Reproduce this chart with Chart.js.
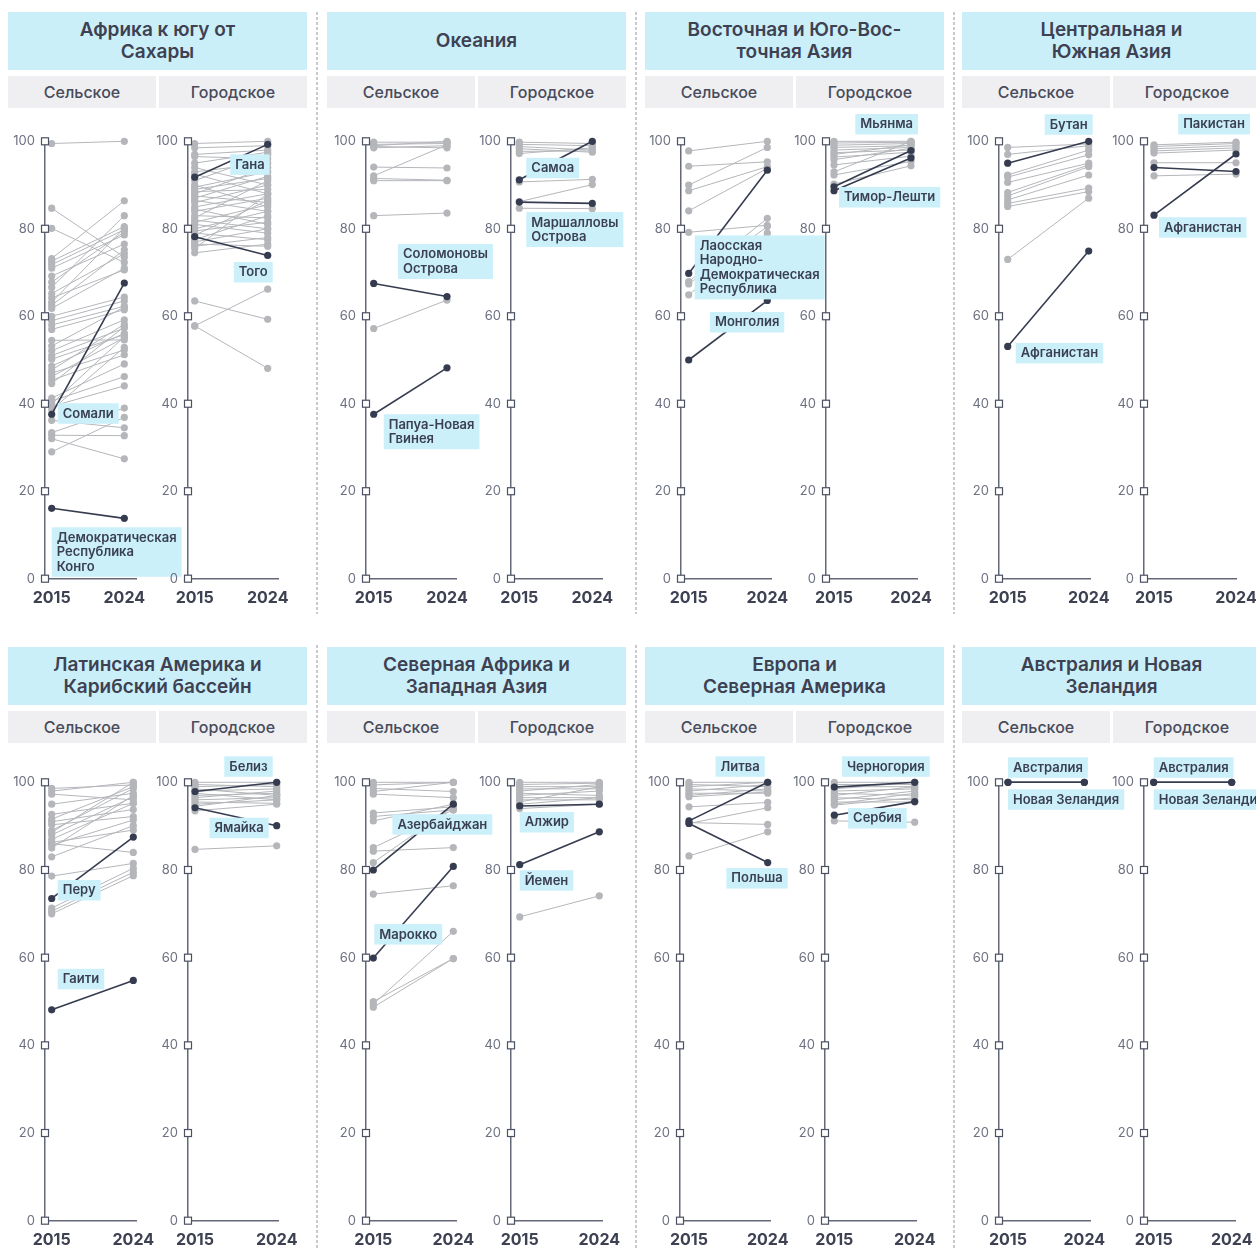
<!DOCTYPE html>
<html><head><meta charset="utf-8">
<script src="https://cdn.jsdelivr.net/npm/chart.js@4.4.1/dist/chart.umd.min.js"></script>
<style>
html,body{margin:0;padding:0;}
body{width:1256px;height:1248px;overflow:hidden;background:#fff;position:relative;font-family:Inter,"Noto Sans",sans-serif;}
.hdr{position:absolute;background:#cbeff9;color:#3d4152;font-weight:600;font-size:19px;line-height:22px;text-align:center;display:flex;align-items:center;justify-content:center;white-space:pre-line;}
.sub{position:absolute;background:#efeff1;color:#474b5b;font-size:16px;font-weight:500;display:flex;align-items:center;justify-content:center;}
.sep{position:absolute;width:2px;background-image:repeating-linear-gradient(to bottom,#cacace 0 3px,transparent 3px 5px);}
canvas{position:absolute;}
</style>
</head><body>
<script>
// ---------- DATA ----------
const years = ['2015', '2024'];
const areaTypes = ['Сельское', 'Городское'];
const regionTitles = [
  'Африка к югу от\nСахары', 'Океания', 'Восточная и Юго-Вос-\nточная Азия', 'Центральная и\nЮжная Азия',
  'Латинская Америка и\nКарибский бассейн', 'Северная Африка и\nЗападная Азия', 'Европа и\nСеверная Америка', 'Австралия и Новая\nЗеландия'
];

// gray series: [value 2015, value 2024]
const ssaRuralGray = [[99.5,100],[84.7,73.5],[80.1,72.3],[73.2,86.4],[72.6,80.5],[71.8,79.8],[71,78.6],[69.2,76.5],[67.8,79.3],[66.6,83],[65.2,74.3],[64.2,70.6],[63.2,80.2],[62.5,75.2],[61.8,71],[60,64.4],[59,63.5],[58,62.3],[57,61.5],[54.5,54.6],[53.2,62.1],[52.1,59.2],[51,57.3],[50.2,55.8],[48.6,56.1],[47.7,58.2],[47,52.3],[46.2,55.1],[45.4,51.2],[44.6,57.6],[41.3,49.1],[40.6,46.2],[40,55.3],[39.4,44.1],[38.6,52.9],[36.2,34.5],[33.4,39],[32.8,32.7],[32,27.4],[29,36.9]];
const ssaUrbanGray = [[99.5,100],[98.5,99],[97,98],[96.5,96],[95,97.5],[94,90],[93,95],[92.5,88],[91,97],[90,85],[89.5,93],[89,91.5],[88.5,89],[88,94],[87.5,86],[87,92],[86.5,84],[86,90],[85,88],[84.5,81],[84,87],[83,82.5],[82.5,91],[82,80],[81.5,85.5],[81,79],[80,84],[79.5,81.5],[79,77.5],[78.5,86.5],[77.5,83],[77,80],[76.5,76],[76,78],[75.5,88],[74.5,76.5],[63.5,59.3],[57.8,66.2],[57.8,48.1]];
const oceRuralGray = [[99.8,99.8],[99.3,99.5],[99,100],[98.5,99],[98.8,98.5],[94.1,93.9],[92.1,99.2],[91.5,91.1],[91,91],[83,83.6],[57.2,63.7]];
const oceUrbanGray = [[99.8,99.5],[99.3,99],[98.8,98],[98.3,97.5],[97.7,97.8],[97.2,98.5],[90.7,91.3],[86.2,90.1],[84.7,84.6]];
const easRuralGray = [[97.8,100],[94.3,95.3],[90,98.6],[88.7,94.2],[84.1,93.8],[79.2,80.8],[67.9,82.4],[67.4,80.5],[64.9,79]];
const easUrbanGray = [[100,100],[99.6,99.8],[99.1,99.5],[98.6,99],[98,98.6],[97.4,98],[97,99.2],[96.4,97.5],[95.8,98.4],[94.6,96.6],[93,100],[92.3,95.4],[90.2,94.4]];
const csaRuralGray = [[98.6,99.4],[97,99],[92.3,98],[91.8,96.9],[90.6,95],[88.3,94.6],[87.5,94.2],[86.6,92.3],[85.8,89.3],[85.1,88.5],[73,87]];
const csaUrbanGray = [[99.2,99.8],[98.8,99.5],[98.3,99],[97.8,98.5],[97.3,98],[95.1,95.1],[92.1,92.5]];
const lacRuralGray = [[98.6,99.4],[98,100],[97.3,96],[95,97.5],[92.7,95.2],[91.6,99],[91,93.8],[90.3,92.2],[89,98.6],[88.6,100],[88,96.7],[87,95.2],[86.3,89.1],[86,84],[85.7,91.4],[85,97],[83,90.1],[78.6,81.5],[71.3,80.4],[70.6,79.5],[70,78.7]];
const lacUrbanGray = [[100,100],[99.5,99],[99,99.5],[98.5,97],[98,98.5],[97.5,96],[97,97.5],[96.5,98],[96,96.5],[95.5,95.2],[95,96],[94.5,97],[93.5,95],[84.7,85.5]];
const nawRuralGray = [[100,100],[99.4,100],[98.6,97.9],[97.9,100],[97.3,96.5],[93,94.4],[92.2,93.7],[91.2,95],[85.1,93.7],[84.3,85.1],[81.7,94.4],[74.5,76.4],[50,59.8],[49.4,66],[48.7,59.8]];
const nawUrbanGray = [[100,100],[99.5,99.8],[99,99],[98.5,98.5],[98,99.5],[97.5,97],[97,98],[96.5,96.5],[96,96],[95.5,99],[95,96.5],[94,95],[69.3,74.1]];
const eurRuralGray = [[100,100],[99.5,99],[99,100],[98.5,98],[98,99.5],[97.5,97.5],[97,98.5],[96.7,97.8],[94.4,95.4],[90.6,94.2],[90.8,90.4],[83.2,88.7]];
const eurUrbanGray = [[100,100],[99.5,99.5],[99,99],[98.5,100],[98,98.5],[97.5,97],[97,99],[96.5,96],[96,98],[95.5,95.5],[95,97.5],[94.8,96.5],[91.2,90.9]];
const anzRuralGray = [];
const anzUrbanGray = [];

// highlighted series: [name, value 2015, value 2024]
const ssaRuralHi = [['Сомали',37.6,67.6],['Демократическая Республика Конго',16.1,13.8]];
const ssaUrbanHi = [['Гана',91.8,99.3],['Того',78.2,73.9]];
const oceRuralHi = [['Соломоновы Острова',67.5,64.5],['Папуа-Новая Гвинея',37.6,48.2]];
const oceUrbanHi = [['Самоа',91.2,100],['Маршалловы Острова',86.1,85.8]];
const easRuralHi = [['Лаосская Народно-Демократическая Республика',69.8,93.4],['Монголия',50,63.6]];
const easUrbanHi = [['Мьянма',89.6,97.9],['Тимор-Лешти',88.7,96.2]];
const csaRuralHi = [['Бутан',95,100],['Афганистан',53.1,74.9]];
const csaUrbanHi = [['Пакистан',94,93.1],['Афганистан',83.1,97.1]];
const lacRuralHi = [['Перу',73.5,87.5],['Гаити',48.1,54.8]];
const lacUrbanHi = [['Белиз',97.9,100],['Ямайка',94.2,90.1]];
const nawRuralHi = [['Азербайджан',80,95],['Марокко',59.9,80.8]];
const nawUrbanHi = [['Алжир',94.6,95],['Йемен',81.2,88.7]];
const eurRuralHi = [['Литва',91.2,100],['Польша',90.6,81.7]];
const eurUrbanHi = [['Черногория',98.9,100],['Сербия',92.5,95.6]];
const anzRuralHi = [['Австралия',100,100],['Новая Зеландия',100,100]];
const anzUrbanHi = [['Австралия',100,100],['Новая Зеландия',100,100]];

// ---------- LAYOUT ----------
const colX = [8, 327, 645, 962];
const rows = [
  {hdrTop:12, hdrH:58, subTop:76, subH:32, canvasTop:108, canvasH:505, y100:141.3, y0:578.7, sepTop:12, sepBot:614},
  {hdrTop:647, hdrH:58, subTop:710.5, subH:32, canvasTop:745, canvasH:503, y100:782.3, y0:1220.7, sepTop:645, sepBot:1248}
];
const sepX = [316, 635, 953];

// geom: [axis x, 2015 x, 2024 x, axis end x]
const panels = [
  {row:0, gray:ssaRuralGray, hi:ssaRuralHi, geom:[45,51.7,124.3,136], labels:[
    {i:0, pt:0, dx:6, dy:-11}, {i:1, pt:0, dx:0, dy:19, lines:['Демократическая','Республика','Конго']}]},
  {row:0, gray:ssaUrbanGray, hi:ssaUrbanHi, geom:[188,194.7,267.7,278.3], labels:[
    {i:0, pt:1, dx:2, dy:10, align:'right'}, {i:1, pt:1, dx:5, dy:6.5, align:'right'}]},
  {row:0, gray:oceRuralGray, hi:oceRuralHi, geom:[366,373.7,447,456.7], labels:[
    {i:0, pt:1, dx:-49, dy:-52.6, lines:['Соломоновы','Острова']}, {i:1, pt:0, dx:10, dy:0, lines:['Папуа-Новая','Гвинея']}]},
  {row:0, gray:oceUrbanGray, hi:oceUrbanHi, geom:[511,519.3,592.3,602.7], labels:[
    {i:0, pt:0, dx:7, dy:-22}, {i:1, pt:0, dx:7, dy:10, lines:['Маршалловы','Острова']}]},
  {row:0, gray:easRuralGray, hi:easRuralHi, geom:[681,688.7,767.3,771.7], labels:[
    {i:0, pt:0, dx:6, dy:-38, lines:['Лаосская','Народно-','Демократическая','Республика']}, {i:1, pt:1, dx:17, dy:11.5, align:'right'}]},
  {row:0, gray:easUrbanGray, hi:easUrbanHi, geom:[826,834,911,917.3], labels:[
    {i:0, pt:1, dx:7, dy:-36.5, align:'right'}, {i:1, pt:0, dx:5, dy:-3.7}]},
  {row:0, gray:csaRuralGray, hi:csaRuralHi, geom:[999,1007.7,1088.7,1090], labels:[
    {i:0, pt:1, dx:4, dy:-27, align:'right'}, {i:1, pt:0, dx:8, dy:-3.5}]},
  {row:0, gray:csaUrbanGray, hi:csaUrbanHi, geom:[1144,1154,1236,1236.5], labels:[
    {i:0, pt:1, dx:14, dy:-57.5, align:'right'}, {i:1, pt:0, dx:5, dy:2}]},
  {row:1, gray:lacRuralGray, hi:lacRuralHi, geom:[45,51.7,133.3,136], labels:[
    {i:0, pt:0, dx:6, dy:-18.5}, {i:1, pt:0, dx:6, dy:-41}]},
  {row:1, gray:lacUrbanGray, hi:lacUrbanHi, geom:[188,195,276.7,278.3], labels:[
    {i:0, pt:1, dx:-4, dy:-26, align:'right'}, {i:1, pt:1, dx:-8, dy:-8, align:'right'}]},
  {row:1, gray:nawRuralGray, hi:nawRuralHi, geom:[366,373.3,453.3,456.7], labels:[
    {i:0, pt:1, dx:39, dy:10, align:'right'}, {i:1, pt:0, dx:1, dy:-34}]},
  {row:1, gray:nawUrbanGray, hi:nawUrbanHi, geom:[511,519.7,599.3,602.7], labels:[
    {i:0, pt:0, dx:0, dy:6}, {i:1, pt:0, dx:0, dy:5.5}]},
  {row:1, gray:eurRuralGray, hi:eurRuralHi, geom:[680,689,767.7,770.7], labels:[
    {i:0, pt:1, dx:-3, dy:-26, align:'right'}, {i:1, pt:1, dx:20, dy:5.5, align:'right'}]},
  {row:1, gray:eurUrbanGray, hi:eurUrbanHi, geom:[825,834.3,914.7,916], labels:[
    {i:0, pt:1, dx:15, dy:-26, align:'right'}, {i:1, pt:1, dx:-8, dy:6.5, align:'right'}]},
  {row:1, gray:anzRuralGray, hi:anzRuralHi, geom:[999,1008,1084.3,1090], labels:[
    {i:0, pt:0, dx:0, dy:-25}, {i:1, pt:0, dx:0, dy:7}]},
  {row:1, gray:anzUrbanGray, hi:anzUrbanHi, geom:[1144,1153.7,1231.7,1235], labels:[
    {i:0, pt:0, dx:0, dy:-25}, {i:1, pt:0, dx:0, dy:7}]}
];

const FONT = 'Inter, "Noto Sans", sans-serif';
const GRAY = '#b4b6ba', DARK = '#363c50', AXIS = '#646878';
Chart.defaults.font.family = FONT;

// headers
regionTitles.forEach((t, r) => {
  const row = rows[Math.floor(r / 4)], x = colX[r % 4];
  const h = document.createElement('div');
  h.className = 'hdr'; h.textContent = t;
  Object.assign(h.style, {left:x+'px', top:row.hdrTop+'px', width:'299px', height:row.hdrH+'px'});
  document.body.appendChild(h);
  areaTypes.forEach((a, k) => {
    const s = document.createElement('div');
    s.className = 'sub'; s.textContent = a;
    Object.assign(s.style, {left:(x + k*151)+'px', top:row.subTop+'px', width:'148px', height:row.subH+'px'});
    document.body.appendChild(s);
  });
});
rows.forEach(row => sepX.forEach(x => {
  const d = document.createElement('div'); d.className = 'sep';
  Object.assign(d.style, {left:x+'px', top:row.sepTop+'px', height:(row.sepBot-row.sepTop)+'px'});
  document.body.appendChild(d);
}));

function makePanel(p) {
  const row = rows[p.row];
  const [axis, p0, p1, end] = p.geom;
  const ax = Math.round(axis);
  const W = 260, H = row.canvasH, YW = 45;
  const unit = p1 - p0;
  const xmin = -(p0 - ax) / unit, xmax = 1 + (end - p1) / unit;
  const cv = document.createElement('canvas');
  cv.width = W; cv.height = H;
  cv.style.left = (ax - YW) + 'px'; cv.style.top = row.canvasTop + 'px';
  cv.style.width = W + 'px'; cv.style.height = H + 'px';
  document.body.appendChild(cv);

  const datasets = [];
  p.hi.forEach(h => datasets.push({
    data: [{x:0, y:h[1]}, {x:1, y:h[2]}], borderColor: DARK, borderWidth: 1.6,
    pointRadius: 3.6, pointBackgroundColor: DARK, pointBorderWidth: 0, order: 0, clip: false
  }));
  p.gray.forEach(g => datasets.push({
    data: [{x:0, y:g[0]}, {x:1, y:g[1]}], borderColor: GRAY, borderWidth: 1,
    pointRadius: 3.6, pointBackgroundColor: GRAY, pointBorderWidth: 0, order: 1, clip: false
  }));

  const decor = {
    id: 'decor',
    afterDraw(chart) {
      const ctx = chart.ctx, xs = chart.scales.x, ys = chart.scales.y;
      const left = chart.chartArea.left;
      ctx.save();
      ys.ticks.forEach(t => {
        const y = ys.getPixelForValue(t.value);
        ctx.fillStyle = '#fff'; ctx.strokeStyle = '#4b5062'; ctx.lineWidth = 1.2;
        ctx.fillRect(left - 3.5, y - 3.5, 7, 7);
        ctx.strokeRect(left - 3.5, y - 3.5, 7, 7);
      });
      ctx.font = '600 13px ' + FONT;
      p.labels.forEach(l => {
        const h = p.hi[l.i];
        const px = xs.getPixelForValue(l.pt), py = ys.getPixelForValue(h[1 + l.pt]);
        const lines = l.lines || [h[0]];
        const w = Math.max(...lines.map(s => ctx.measureText(s).width)) + 10;
        const bh = lines.length * 14.5 + 6;
        const bx = l.align === 'right' ? px + l.dx - w : px + l.dx;
        const by = py + l.dy;
        ctx.fillStyle = '#cbf0fa';
        ctx.fillRect(bx, by, w, bh);
        ctx.fillStyle = '#3a3f51'; ctx.textBaseline = 'middle'; ctx.textAlign = 'left';
        lines.forEach((s, k) => ctx.fillText(s, bx + 5, by + 3 + 14.5 * k + 7.5));
      });
      ctx.restore();
    }
  };

  new Chart(cv, {
    type: 'line',
    data: {datasets},
    plugins: [decor],
    options: {
      responsive: false, animation: false, devicePixelRatio: 1,
      layout: {padding: {top: row.y100 - row.canvasTop, left: 0, bottom: 0, right: W - YW - (end - ax)}},
      plugins: {legend: {display: false}, tooltip: {enabled: false}},
      elements: {line: {tension: 0}},
      scales: {
        x: {
          type: 'linear', min: xmin, max: xmax,
          afterBuildTicks: s => { s.ticks = [{value: 0}, {value: 1}]; },
          afterFit: s => { s.height = H - (row.y0 - row.canvasTop); },
          grid: {display: false, drawTicks: false},
          border: {display: true, color: AXIS, width: 1.5},
          ticks: {autoSkip: false, maxRotation: 0, padding: 10, color: '#3d4152',
                  font: {size: 16, weight: 'bold'}, callback: v => years[v]}
        },
        y: {
          min: 0, max: 100,
          afterFit: s => { s.width = YW; },
          grid: {display: false, drawTicks: false},
          border: {display: true, color: AXIS, width: 1.5},
          ticks: {stepSize: 20, padding: 10, color: '#6d7080', font: {size: 13}}
        }
      }
    }
  });
}
panels.forEach(makePanel);
</script>
</body></html>
